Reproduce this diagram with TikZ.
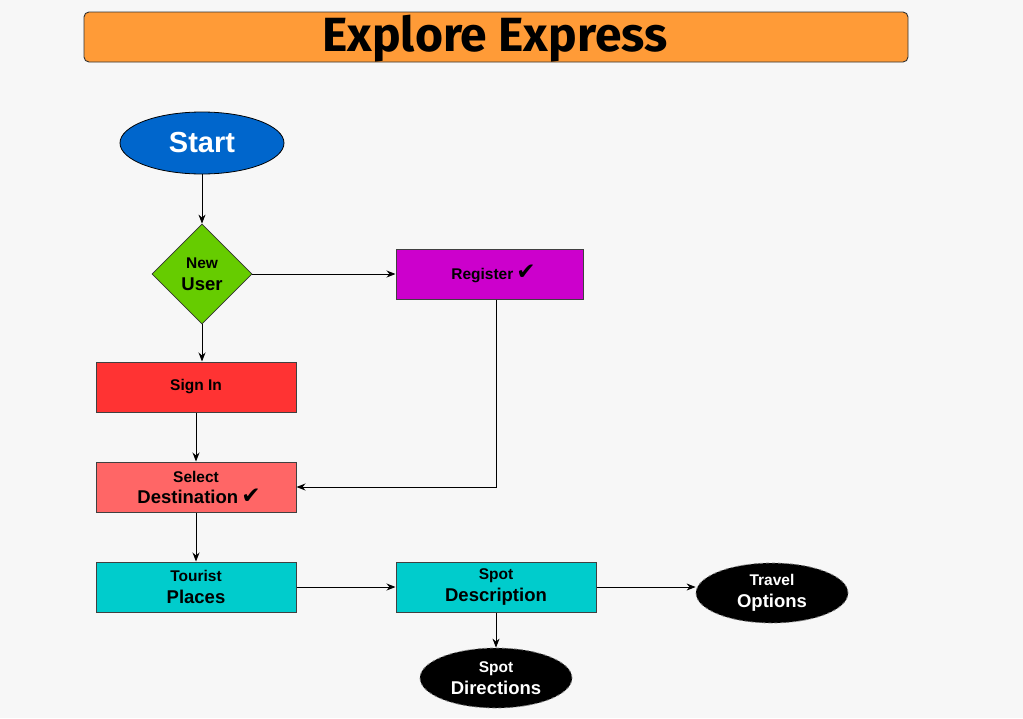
\documentclass[tikz,border=0pt]{standalone}
\usepackage{fontspec}
\setmainfont{Liberation Sans}
\newfontfamily\titlefont{Fira Sans}
\newfontfamily\symfont{DejaVu Sans}
\usetikzlibrary{shapes.geometric,arrows.meta}
\definecolor{bgc}{HTML}{F7F7F7}
\definecolor{orangec}{HTML}{FF9B37}
\definecolor{bluec}{HTML}{0066CC}
\definecolor{greenc}{HTML}{66CC00}
\definecolor{magc}{HTML}{CC00CC}
\definecolor{redc}{HTML}{FF3333}
\definecolor{pinkc}{HTML}{FF6666}
\definecolor{cyanc}{HTML}{00CCCC}
\newcommand{\chk}{{\symfont\fontsize{23}{23}\selectfont ✔}}
\newcommand{\sm}[1]{{\fontsize{15.5}{17}\selectfont #1}}
\begin{document}
\begin{tikzpicture}[x=1pt,y=-1pt,
  box/.style={draw=black!75,line width=1pt,minimum width=200pt,minimum height=50pt,inner sep=0pt,align=center,font=\bfseries\fontsize{18.5}{20}\selectfont},
  term/.style={ellipse,fill=black,draw=gray,dashed,line width=0.8pt,minimum width=152pt,minimum height=60pt,inner sep=0pt,text=white,align=center,font=\bfseries\fontsize{18.5}{22}\selectfont},
  arr/.style={-{Stealth[length=9pt,width=7pt]},line width=0.9pt}]
\useasboundingbox (0,0) rectangle (1023,718);
\fill[bgc] (0,0) rectangle (1023,718);
\node[draw=black!80,line width=0.9pt,fill=orangec,rounded corners=5pt,minimum width=824pt,minimum height=50pt,inner sep=0pt] (title) at (496,37) {};
\node[inner sep=0pt,font=\titlefont\bfseries\fontsize{48}{48}\selectfont] (titletext) at (495,39) {Explore Express};
\node[ellipse,fill=bluec,draw=black,line width=0.8pt,minimum width=164pt,minimum height=62pt,inner sep=0pt,text=white,font=\bfseries\fontsize{29}{29}\selectfont] (start) at (202,143) {Start};
\node[diamond,fill=greenc,draw=black!80,line width=0.8pt,minimum width=100pt,minimum height=100pt,inner sep=0pt,align=center,font=\bfseries\fontsize{18.5}{22}\selectfont] (new) at (202,274) {\sm{New}\\User};
\node[box,fill=magc,minimum width=187pt] (reg) at (489.5,274) {\hspace*{8pt}\sm{Register}\,\chk};
\node[box,fill=redc] (sign) at (196,387) {\sm{Sign In}};
\node[box,fill=pinkc,font=\bfseries\fontsize{18.5}{21}\selectfont] (sel) at (196,487) {\sm{Select}\\\hspace*{6pt}Destination\,\chk};
\node[box,fill=cyanc,font=\bfseries\fontsize{18.5}{22}\selectfont] (tour) at (196,587) {\sm{Tourist}\\Places};
\node[box,fill=cyanc,font=\bfseries\fontsize{18.5}{22}\selectfont] (spot) at (496,587) {\sm{Spot}\\Description};
\node[term] (travel) at (772,593) {\sm{Travel}\\Options};
\node[term] (dir) at (496,678) {\sm{Spot}\\Directions};
\coordinate (regcorner) at (496,487);
\draw[arr] (start.south) -- (new.north);
\draw[arr] (new.east) -- (reg.west);
\draw[arr] (new.south) -- (new.south |- sign.north);
\draw[arr] (sign.south) -- (sel.north);
\draw[arr] (regcorner |- reg.south) -- (regcorner) -- (sel.east);
\draw[arr] (sel.south) -- (tour.north);
\draw[arr] (tour.east) -- (spot.west);
\draw[arr] (spot.east) -- (travel.west |- spot.east);
\draw[arr] (spot.south) -- (dir.north);
\end{tikzpicture}
\end{document}
